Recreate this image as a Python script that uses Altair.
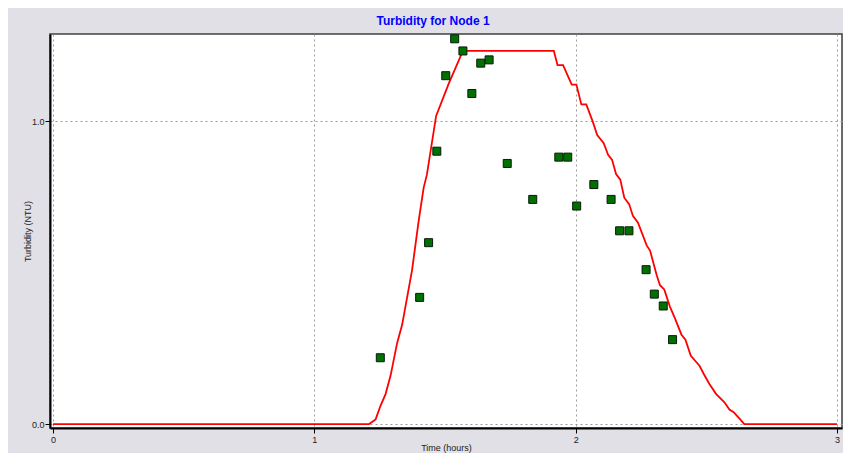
import altair as alt
import pandas as pd

# Simulated turbidity (red line)
line_t = [0.0, 1.2095, 1.2345, 1.2535, 1.2725, 1.2915, 1.3169, 1.3359, 1.3738, 1.3992,
          1.4182, 1.4307, 1.4660, 1.5142, 1.5685, 1.9165, 1.9306, 1.9518, 1.9848, 2.0027,
          2.0216, 2.0406, 2.0657, 2.0824, 2.1074, 2.1241, 2.1393, 2.1545, 2.1708, 2.1860,
          2.2049, 2.2190, 2.2380, 2.2721, 2.2846, 2.3101, 2.3226, 2.3389, 2.3605, 2.3795,
          2.4049, 2.4201, 2.4402, 2.4581, 2.4744, 2.4907, 2.5123, 2.5377, 2.5693, 2.5882,
          2.6046, 2.6388, 2.6452, 3.0]
line_v = [0.0, 0.0, 0.0154, 0.0611, 0.0990, 0.1592, 0.2680, 0.3278, 0.5075, 0.6709,
          0.7801, 0.8235, 1.0173, 1.1242, 1.2320, 1.2320, 1.1853, 1.1853, 1.1209, 1.1209,
          1.0556, 1.0556, 0.9977, 0.9542, 0.9271, 0.8889, 0.8725, 0.8258, 0.8072, 0.7474,
          0.7255, 0.6873, 0.6657, 0.5892, 0.5729, 0.4912, 0.4585, 0.4444, 0.3879, 0.3497,
          0.2951, 0.2788, 0.2265, 0.2082, 0.1918, 0.1644, 0.1317, 0.0990, 0.0719, 0.0480,
          0.0392, 0.0065, 0.0, 0.0]

# Observed turbidity (green squares)
obs_t = [1.2524, 1.4030, 1.4372, 1.4687, 1.5028, 1.5370, 1.5685, 1.6027, 1.6368, 1.6687,
         1.7381, 1.8357, 1.9355, 1.9696, 2.0038, 2.0695, 2.1355, 2.1681, 2.2038, 2.2694,
         2.3009, 2.3351, 2.3708]
obs_v = [0.2190, 0.4183, 0.5990, 0.9010, 1.1503, 1.2722, 1.2320, 1.0915, 1.1918, 1.2026,
         0.8605, 0.7418, 0.8814, 0.8814, 0.7199, 0.7908, 0.7418, 0.6382, 0.6382, 0.5098,
         0.4291, 0.3899, 0.2788]

x_ticks = [0, 1, 2, 3]
y_ticks = [0.0, 1.0]

line_df = pd.DataFrame({"t": line_t, "v": line_v})
obs_df = pd.DataFrame({"t": obs_t, "v": obs_v})

FONT = "Liberation Sans"

x_scale = alt.Scale(domain=[-0.0115, 3.0191], nice=False, zero=False)
y_scale = alt.Scale(domain=[-0.013, 1.288], nice=False, zero=False)

x_axis = alt.Axis(
    title="Time (hours)", values=x_ticks, format="d",
    grid=True, gridColor="#9a9a9a", gridDash=[2, 3], gridWidth=1,
    domain=True, domainColor="#000000", domainWidth=2,
    ticks=True, tickColor="#000000", tickSize=5,
    labelFont=FONT, labelFontSize=9, labelColor="#222222", labelPadding=2,
    titleFont=FONT, titleFontSize=9, titleFontWeight="normal", titleColor="#222222",
    titleY=22, titleBaseline="alphabetic",
)
y_axis = alt.Axis(
    title="Turbidity (NTU)", values=y_ticks, format=".1f",
    grid=True, gridColor="#9a9a9a", gridDash=[2, 3], gridWidth=1,
    domain=True, domainColor="#000000", domainWidth=2,
    ticks=True, tickColor="#000000", tickSize=5,
    labelFont=FONT, labelFontSize=9, labelColor="#222222", labelPadding=1,
    titleFont=FONT, titleFontSize=9, titleFontWeight="normal", titleColor="#222222",
    titleX=-23, titleY=197, titleAngle=270, titleAlign="center", titleBaseline="middle",
)

line = alt.Chart(line_df).mark_line(color="#ff0000", strokeWidth=1.8).encode(
    x=alt.X("t:Q", scale=x_scale, axis=x_axis),
    y=alt.Y("v:Q", scale=y_scale, axis=y_axis),
    order="t:Q",
)

pts = alt.Chart(obs_df).mark_point(
    shape="square", filled=True, size=64, fill="#007000", stroke="#0a1a0a",
    strokeWidth=1, opacity=1,
).encode(
    x=alt.X("t:Q", scale=x_scale),
    y=alt.Y("v:Q", scale=y_scale),
)

chart = (
    alt.layer(line, pts)
    .properties(
        width=792,
        height=394,
        background="#e0e0e6",
        padding={"left": 42, "top": 26, "right": 1, "bottom": 25},
        autosize=alt.AutoSizeParams(type="none"),
        title=alt.TitleParams(
            "Turbidity for Node 1", font=FONT, fontSize=12, fontWeight="bold",
            color="#0000ff", anchor="middle", offset=5, dx=-13,
        ),
    )
    .configure_view(stroke="#404040", strokeWidth=1.5, fill="#ffffff")
)

chart.save("out.html", embed_options={"renderer": "svg", "actions": False})
